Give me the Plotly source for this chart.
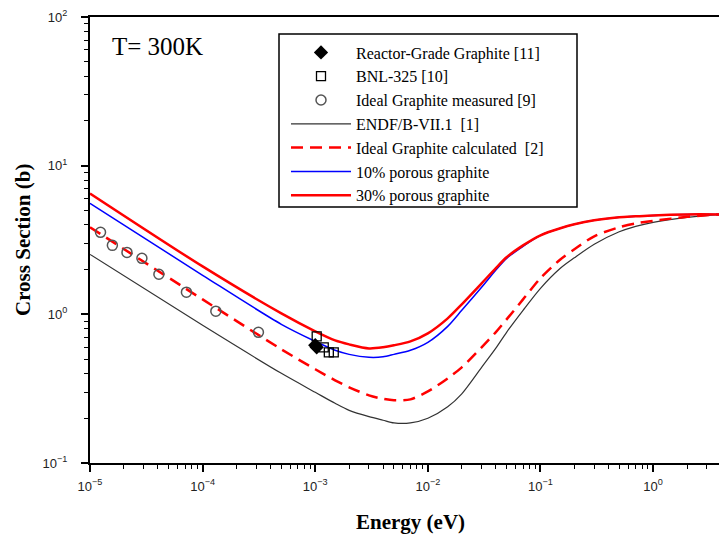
import plotly.graph_objects as go

# ---------------- data ----------------
energy = [1e-5, 1e-4, 5e-4, 1e-3, 1.5e-3, 2e-3, 3e-3, 4e-3, 5e-3, 7e-3,
          1e-2, 1.5e-2, 2e-2, 3e-2, 4e-2, 5e-2, 7e-2, 0.1, 0.15, 0.2,
          0.3, 0.5, 0.7, 1.0, 2.0, 3.85]

endf = [2.53, 0.843, 0.401, 0.299, 0.252, 0.226, 0.205, 0.194, 0.186, 0.186,
        0.200, 0.239, 0.292, 0.440, 0.590, 0.757, 1.064, 1.496, 2.04, 2.40,
        2.96, 3.59, 3.91, 4.16, 4.49, 4.70]
ideal_calc = [3.85, 1.26, 0.582, 0.427, 0.360, 0.323, 0.285, 0.270, 0.264, 0.268,
              0.303, 0.371, 0.440, 0.600, 0.757, 0.925, 1.26, 1.75, 2.34, 2.74,
              3.35, 3.85, 4.09, 4.25, 4.53, 4.70]
porous10 = [5.58, 1.83, 0.857, 0.658, 0.573, 0.538, 0.514, 0.518, 0.538, 0.573,
            0.648, 0.830, 1.064, 1.52, 1.98, 2.38, 2.87, 3.40, 3.79, 4.03,
            4.29, 4.49, 4.56, 4.63, 4.70, 4.70]
porous30 = [6.5, 2.10, 1.015, 0.769, 0.668, 0.628, 0.590, 0.600, 0.619, 0.658,
            0.745, 0.940, 1.168, 1.616, 2.04, 2.42, 2.91, 3.40, 3.79, 4.03,
            4.29, 4.49, 4.56, 4.63, 4.70, 4.70]

reactor_E = [1.0e-3, 1.03e-3]
reactor_xs = [0.62, 0.60]

bnl_E = [1.03e-3, 1.19e-3, 1.32e-3, 1.46e-3]
bnl_xs = [0.711, 0.600, 0.555, 0.555]

ideal_meas_E = [1.24e-5, 1.58e-5, 2.13e-5, 2.89e-5, 4.09e-5, 7.18e-5, 1.31e-4, 3.13e-4]
ideal_meas_xs = [3.56, 2.91, 2.61, 2.38, 1.86, 1.41, 1.05, 0.757]

x_tick_exp = [-5, -4, -3, -2, -1, 0]
y_tick_exp = [-1, 0, 1, 2]

names = ["Reactor-Grade Graphite [11]", "BNL-325 [10]", "Ideal Graphite measured [9]",
         "ENDF/B-VII.1  [1]", "Ideal Graphite calculated  [2]",
         "10% porous graphite", "30% porous graphite"]

# ---------------- figure ----------------
fig = go.Figure()

fig.add_trace(go.Scatter(x=energy, y=endf, mode="lines", name=names[3], legendrank=4,
                         line=dict(color="#333333", width=1.2, shape="spline", smoothing=0.8)))
fig.add_trace(go.Scatter(x=energy, y=ideal_calc, mode="lines", name=names[4], legendrank=5,
                         line=dict(color="#ff0000", width=2.5, dash="12px,7px",
                                   shape="spline", smoothing=0.8)))
fig.add_trace(go.Scatter(x=energy, y=porous10, mode="lines", name=names[5], legendrank=6,
                         line=dict(color="#0000ff", width=1.5, shape="spline", smoothing=0.8)))
fig.add_trace(go.Scatter(x=energy, y=porous30, mode="lines", name=names[6], legendrank=7,
                         line=dict(color="#ff0000", width=2.5, shape="spline", smoothing=0.8)))

fig.add_trace(go.Scatter(x=ideal_meas_E, y=ideal_meas_xs, mode="markers", name=names[2],
                         legendrank=3,
                         marker=dict(symbol="circle-open", size=10, color="#555555",
                                     line=dict(width=1.5, color="#555555"))))
fig.add_trace(go.Scatter(x=bnl_E, y=bnl_xs, mode="markers", name=names[1], legendrank=2,
                         marker=dict(symbol="square-open", size=9, color="#000000",
                                     line=dict(width=1.3, color="#000000"))))
fig.add_trace(go.Scatter(x=reactor_E, y=reactor_xs, mode="markers", name=names[0], legendrank=1,
                         marker=dict(symbol="diamond", size=11, color="#000000")))

tick_font = dict(family="Liberation Sans, Arial, sans-serif", size=13, color="#222222")


def sup_label(e):
    s = str(e).replace("-", "\u2212")
    return "10<sup>" + s + "</sup>"


x_minor = [m * 10.0 ** e for e in range(-5, 1) for m in range(2, 10)]
y_minor = [m * 10.0 ** e for e in range(-1, 2) for m in range(2, 10)]

fig.update_xaxes(
    type="log", range=[-5, 0.585],
    tickmode="array", tickvals=[10.0 ** e for e in x_tick_exp],
    ticktext=[sup_label(e) for e in x_tick_exp],
    ticks="outside", ticklen=7, tickwidth=1.5, tickcolor="black",
    minor=dict(tickmode="array", tickvals=x_minor, ticks="outside", ticklen=4,
               tickwidth=1.2, tickcolor="black", showgrid=False),
    showline=True, linecolor="black", linewidth=2, mirror=True,
    showgrid=False, zeroline=False, tickfont=tick_font, ticklabelstandoff=3,
)
fig.update_yaxes(
    type="log", range=[-1, 2],
    tickmode="array", tickvals=[10.0 ** e for e in y_tick_exp],
    ticktext=[sup_label(e) for e in y_tick_exp],
    ticks="outside", ticklen=7, tickwidth=1.5, tickcolor="black",
    minor=dict(tickmode="array", tickvals=y_minor, ticks="outside", ticklen=4,
               tickwidth=1.2, tickcolor="black", showgrid=False),
    showline=True, linecolor="black", linewidth=2, mirror=False,
    showgrid=False, zeroline=False, tickfont=tick_font, ticklabelstandoff=11,
)

PL, PR, PT, PB = 90, 719, 17, 463
W, H = PR - PL, PB - PT


def px(xp):
    return (xp - PL) / W


def py(yp):
    return (PB - yp) / H


serif = "Liberation Serif, Times New Roman, serif"

# legend frame
fig.add_shape(type="rect", xref="paper", yref="paper",
              x0=px(279), x1=px(577), y0=py(207), y1=py(34),
              line=dict(color="black", width=1.5), fillcolor="rgba(0,0,0,0)")

fig.add_annotation(text="T= 300K", xref="paper", yref="paper", x=px(110), y=py(47),
                   xanchor="left", yanchor="middle", showarrow=False,
                   font=dict(family=serif, size=25, color="black"))
fig.add_annotation(text="Cross Section (b)", xref="paper", yref="paper", x=px(23), y=py(240),
                   xanchor="center", yanchor="middle", showarrow=False, textangle=-90,
                   font=dict(family=serif, size=21, color="black", weight="bold"))
fig.add_annotation(text="Energy (eV)", xref="paper", yref="paper", x=px(410), y=py(522),
                   xanchor="center", yanchor="middle", showarrow=False,
                   font=dict(family=serif, size=21, color="black", weight="bold"))

fig.update_layout(
    width=719, height=537,
    margin=dict(l=PL, r=719 - PR, t=PT, b=537 - PB, autoexpand=False),
    paper_bgcolor="white", plot_bgcolor="white",
    showlegend=True,
    legend=dict(x=px(286), y=py(35.5), xanchor="left", yanchor="top",
                bgcolor="rgba(0,0,0,0)", borderwidth=0,
                font=dict(family=serif, size=16, color="black"),
                itemwidth=60, tracegroupgap=0),
)

fig.write_html("out.html", config={"displayModeBar": False},
               post_script="document.body.style.margin='0px';")
